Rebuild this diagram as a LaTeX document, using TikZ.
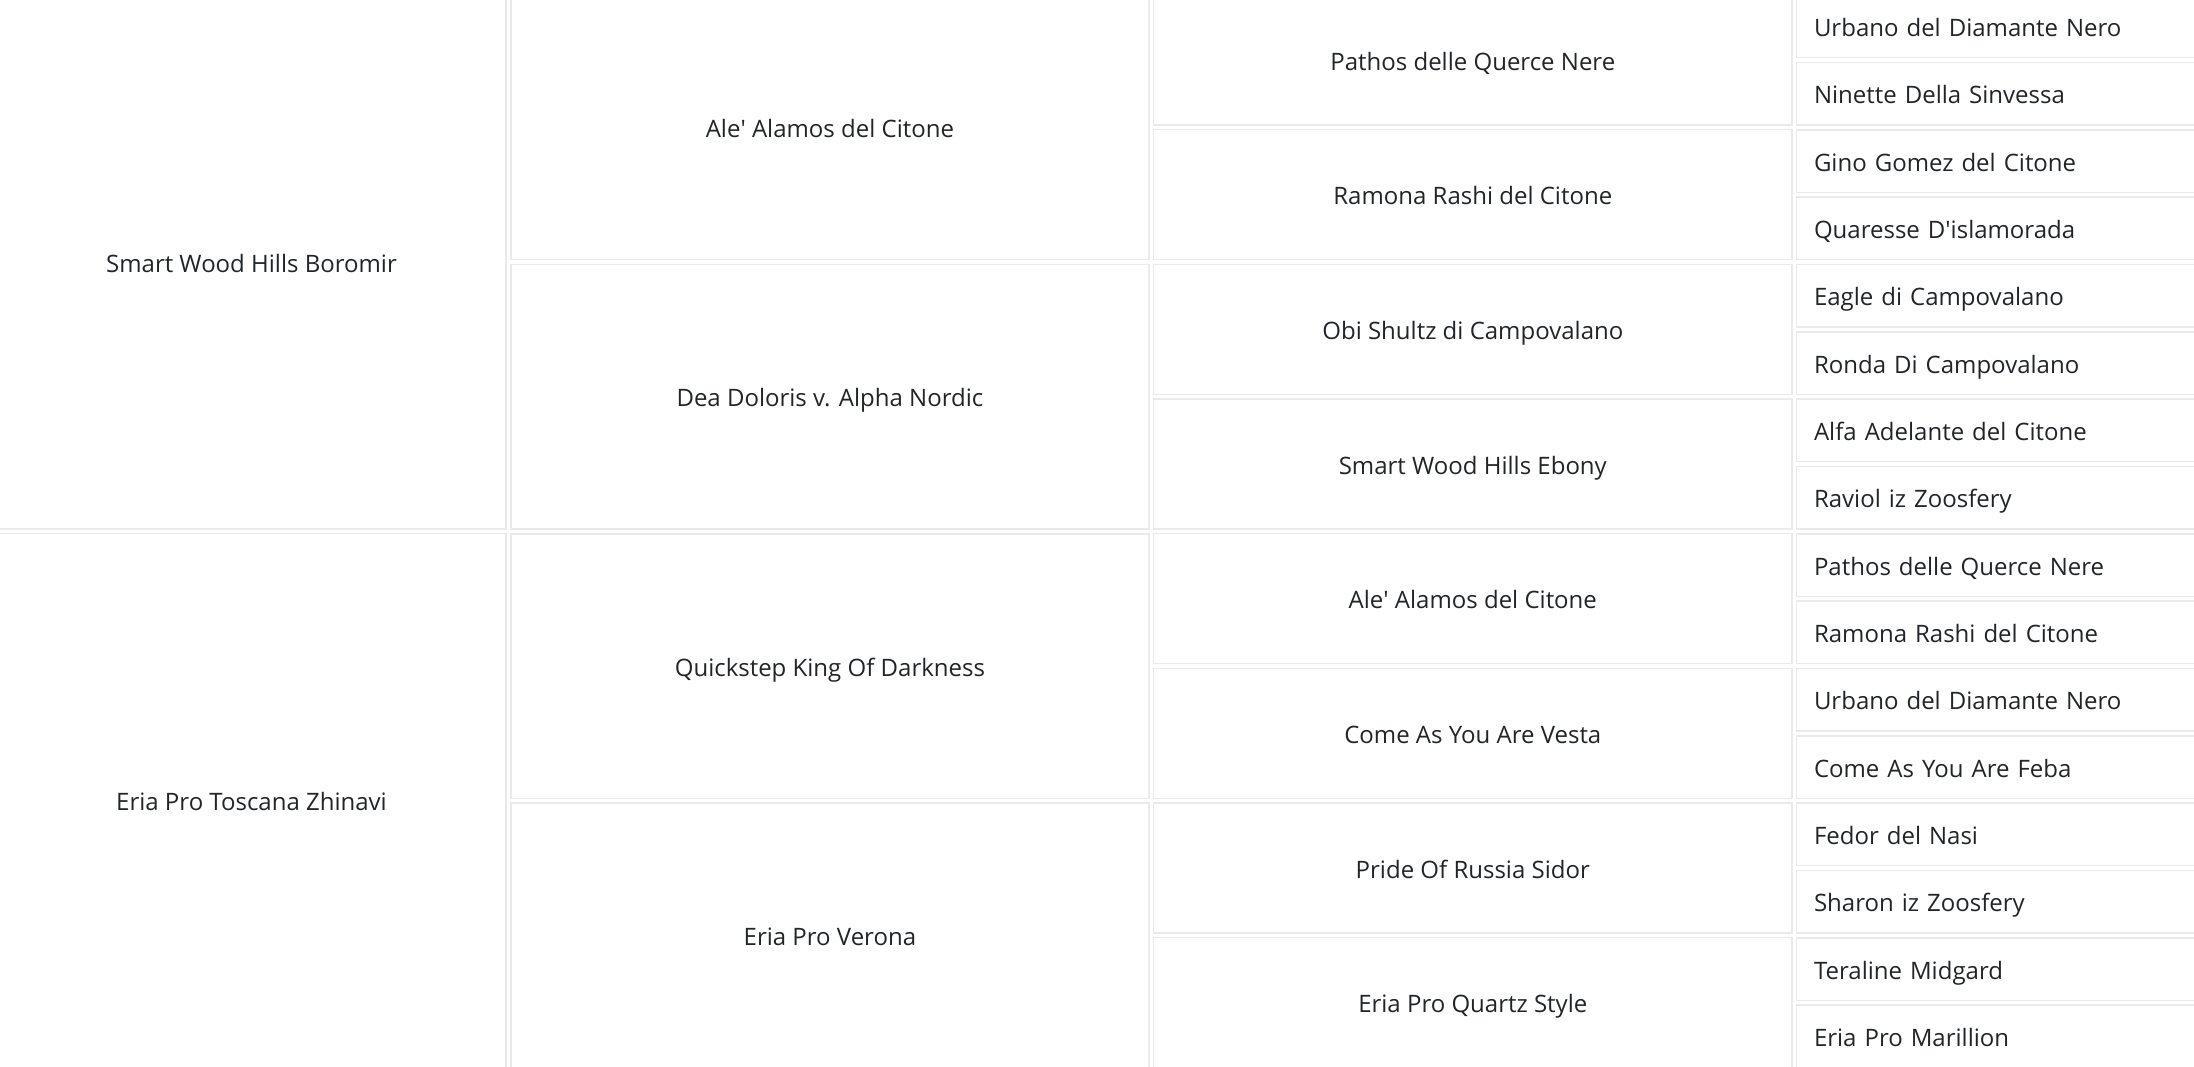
\documentclass[tikz,border=0pt]{standalone}
\usepackage{fontspec}
\setmainfont{Open Sans}
\usepackage{tikz}

\definecolor{cellline}{RGB}{234,234,234}
\definecolor{celltext}{RGB}{33,37,41}
\newcommand{\apo}{\textquotesingle}

\tikzset{
  cell/.style={draw=cellline,line width=0.8pt,text=celltext,inner sep=0pt,
    font=\fontsize{12}{15}\selectfont,text height=1.25em,text depth=0.25em,align=center},
  gena/.style={cell,minimum width=254.5pt,minimum height=267pt},
  genb/.style={cell,minimum width=319.2pt,minimum height=132.3pt},
  genc/.style={cell,minimum width=319.2pt,minimum height=65pt},
  gend/.style={cell,minimum height=31.3pt,inner xsep=8.75pt,
    text width=209.25pt,align=left}
}

\begin{document}
\begin{tikzpicture}[x=0.5pt,y=-0.5pt]
          \useasboundingbox (0,0) rectangle (2194,1066);
          \clip (0,0) rectangle (2194,1066);
          % parents
          \foreach \name [count=\i from 0] in {Smart Wood Hills Boromir, Eria Pro Toscana Zhinavi}
            \node[gena] (a\i) at (251.5,{-7.3+67.33*(8*\i+4)}) {\name};
          % grandparents
          \foreach \name [count=\i from 0] in {Ale\apo{} Alamos del Citone, Dea Doloris v. Alpha Nordic,
              Quickstep King Of Darkness, Eria Pro Verona}
            \node[genb] (b\i) at (829.9,{-7.3+67.33*(4*\i+2)}) {\name};
          % great-grandparents
          \foreach \name [count=\i from 0] in {Pathos delle Querce Nere, Ramona Rashi del Citone,
              Obi Shultz di Campovalano, Smart Wood Hills Ebony, Ale\apo{} Alamos del Citone,
              Come As You Are Vesta, Pride Of Russia Sidor, Eria Pro Quartz Style}
            \node[genc] (c\i) at (1472.8,{-7.3+67.33*(2*\i+1)}) {\name};
          % great-great-grandparents
          \foreach \name [count=\i from 0] in {Urbano del Diamante Nero, Ninette Della Sinvessa,
              Gino Gomez del Citone, Quaresse D\apo{}islamorada, Eagle di Campovalano,
              Ronda Di Campovalano, Alfa Adelante del Citone, Raviol iz Zoosfery,
              Pathos delle Querce Nere, Ramona Rashi del Citone, Urbano del Diamante Nero,
              Come As You Are Feba, Fedor del Nasi, Sharon iz Zoosfery, Teraline Midgard,
              Eria Pro Marillion}
            \node[gend] (d\i) at (2023.25,{-7.3+67.33*(\i+0.5)}) {\name};
        \end{tikzpicture}
\end{document}
